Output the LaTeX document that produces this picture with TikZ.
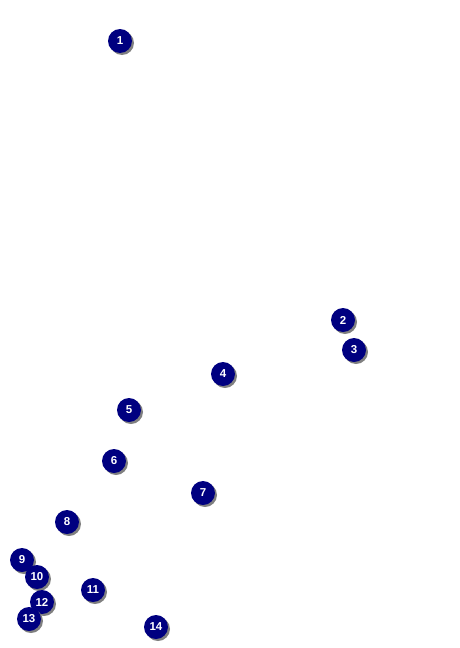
\documentclass[tikz,border=0pt]{standalone}
\usepackage{fontspec}
\setmainfont{Liberation Sans}
\begin{document}
\begin{tikzpicture}[x=1pt,y=-1pt,
  marker/.style={circle,fill={rgb,255:red,0;green,0;blue,128},minimum size=24pt,inner sep=0pt,
    text=white,font=\fontsize{11.5}{11.5}\selectfont\bfseries},
  shadowc/.style={fill=black!50}]
\useasboundingbox (0,0) rectangle (459,648);
\foreach \n/\x/\y in {1/120/41,2/343/320,3/354/350,4/223/374,5/129/410,6/114/461,7/203/493,8/67/522,9/22/560,10/37/577,11/93/590,12/42/602,13/29/619,14/156/627}{
  \fill[shadowc] (\x+2,\y+2) circle (12);
  \node[marker] (m\n) at (\x,\y) {\n};
}
\end{tikzpicture}
\end{document}
